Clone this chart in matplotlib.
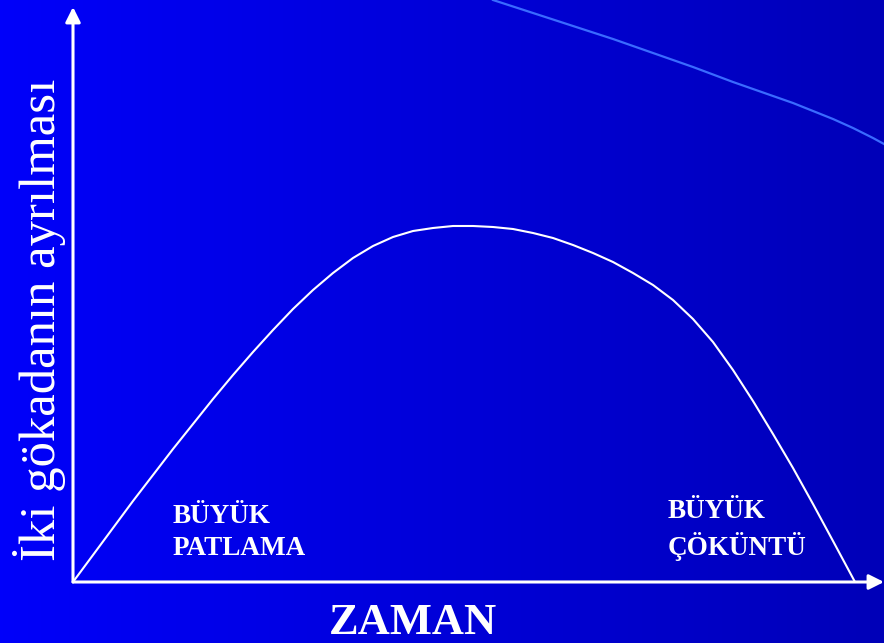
import numpy as np
import matplotlib.pyplot as plt
from matplotlib.colors import LinearSegmentedColormap

# zaman / ayrılma değerleri
zaman = [0, 20, 40, 60, 80, 100, 120, 140, 160, 180, 200, 220, 240, 260, 280,
         300, 320, 340, 360, 380, 400, 420, 440, 460, 480, 500, 520, 540, 560,
         580, 600, 620, 640, 660, 680, 700, 720, 740, 760, 782]
ayrilma = [0, 27, 54, 81, 107, 133, 158, 183, 207, 230, 252, 273, 292, 309, 324,
           336, 345, 351, 354, 356, 356, 355, 353, 349, 344, 337, 329, 320, 309,
           297, 282, 263, 240, 212, 181, 148, 114, 78, 41, 0]

# açık mavi eğri (sonsuz genişleme)
zaman2 = [420, 460, 500, 540, 580, 620, 660, 700, 720, 760, 780, 800, 811]
ayrilma2 = [582, 569, 556, 543, 529, 515, 500, 486, 479, 463, 454, 444, 438]

ylabel = 'İki gökadanın ayrılması'
xlabel = 'ZAMAN'
sol_etiket = 'BÜYÜK\nPATLAMA'
sag_etiket = 'BÜYÜK\nÇÖKÜNTÜ'

fig = plt.figure(figsize=(8.84, 6.43), dpi=100)

# arka plan gradyanı
bg = fig.add_axes([0, 0, 1, 1])
cmap = LinearSegmentedColormap.from_list('bg', ['#0000FA', '#0000B8'])
bg.imshow(np.linspace(0, 1, 256).reshape(1, -1), aspect='auto', cmap=cmap,
          extent=[0, 1, 0, 1])
bg.set_axis_off()

ax = fig.add_axes([0, 0, 1, 1])
ax.patch.set_alpha(0)
ax.set_xlim(-73, 811)
ax.set_ylim(-61, 582)
ax.set_axis_off()

# eksenler (oklar)
ok = dict(arrowstyle='-|>,head_length=0.9,head_width=0.45',
          color='white', lw=2.2, shrinkA=0, shrinkB=0)
ax.annotate('', xy=(0, 575), xytext=(0, 0), arrowprops=ok)
ax.annotate('', xy=(811, 0), xytext=(0, 0), arrowprops=ok)

ax.plot(zaman, ayrilma, color='white', lw=1.5, solid_capstyle='round',
        solid_joinstyle='round')
ax.plot(zaman2, ayrilma2, color='#3A6BFF', lw=1.6, solid_joinstyle='round')

serif = ['Liberation Serif', 'DejaVu Serif']
ax.text(-33, 262, ylabel, rotation=90, color='white', fontsize=36.5,
        family=serif, ha='center', va='center')
ax.text(340, -41, xlabel, color='white', fontsize=32, fontweight='bold',
        family=serif, ha='center', va='center')
ax.text(100, 27, sol_etiket, color='white', fontsize=19.5, fontweight='bold',
        family=serif, ha='left', va='baseline', linespacing=1.35)
ax.text(595, 27, sag_etiket, color='white', fontsize=19.5, fontweight='bold',
        family=serif, ha='left', va='baseline', linespacing=1.35)

plt.savefig('out.png', dpi=100)
